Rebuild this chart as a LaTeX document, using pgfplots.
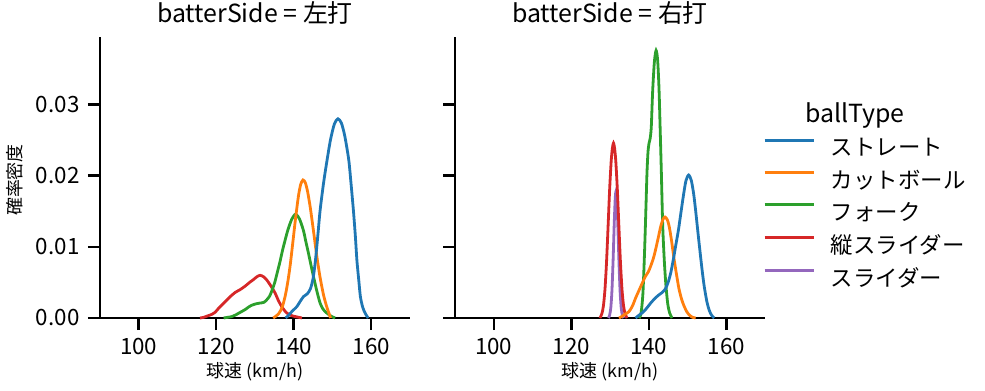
\documentclass[border=0pt]{standalone}
\usepackage{fontspec}
\setmainfont{Noto Sans CJK JP}
\usepackage{pgfplots}
\pgfplotsset{compat=1.18}
\definecolor{tabblue}{HTML}{1F77B4}
\definecolor{taborange}{HTML}{FF7F0E}
\definecolor{tabgreen}{HTML}{2CA02C}
\definecolor{tabred}{HTML}{D62728}
\definecolor{tabpurple}{HTML}{9467BD}
\pgfplotsset{
  common/.style={
    scale only axis, width=310bp, height=281bp,
    xmin=90, xmax=170, ymin=0, ymax=0.0395,
    axis x line*=bottom, axis y line*=left,
    axis line style={line width=2.6bp, -},
    tick align=outside, major tick length=12bp,
    every tick/.style={line width=2.5bp, black},
    xtick={100,120,140,160}, ytick={0,0.01,0.02,0.03},
    tick label style={font=\fontsize{22.5}{27}\selectfont},
    /pgf/number format/assume math mode=true,
    yticklabel style={/pgf/number format/fixed, /pgf/number format/fixed zerofill, /pgf/number format/precision=2, xshift=-5bp},
    xticklabel style={yshift=-5bp},
    scaled y ticks=false,
    xlabel={球速 (km/h)},
    xlabel style={font=\fontsize{18}{22}\selectfont, at={(axis description cs:0.5,-0.192)}, anchor=center},
    title style={font=\fontsize{25}{30}\selectfont, at={(axis description cs:0.5,1)}, anchor=base, yshift=8.7bp},
    clip=false,
    every axis plot/.append style={line width=2.8bp, smooth, tension=0.45},
  }
}
\begin{document}
\begin{tikzpicture}
\useasboundingbox (0,0) rectangle (985bp,391bp);
% ---------------- left panel ----------------
\begin{axis}[common, at={(100bp,73bp)}, anchor=south west,
  title={batterSide = 左打},
  ylabel={確率密度},
  ylabel style={font=\fontsize{18}{22}\selectfont, at={(axis description cs:-0.274,0.491)}, anchor=center},
]
\addplot[tabred] coordinates {(115.8,0) (116.8,0.0001) (117.8,0.0003) (118.8,0.0005) (119.7,0.0008) (120.5,0.0013) (121.4,0.0018) (122.3,0.0023) (123.6,0.0030) (124.9,0.0036) (126.2,0.0040) (127.5,0.0045) (128.6,0.0050) (129.6,0.0054) (130.5,0.0058) (131.3,0.0060) (132.2,0.0058) (133.1,0.0053) (134.1,0.0045) (135.2,0.0035) (136.0,0.0025) (136.9,0.0016) (138.0,0.0008) (139.1,0.0004) (140.4,0.0002) (141.3,0.0001) (142.1,0)};
\addplot[tabgreen] coordinates {(121.9,0) (123,0.0001) (124,0.0002) (124.9,0.0004) (126.2,0.0008) (127.5,0.0012) (128.5,0.0016) (129.2,0.0018) (130.3,0.0020) (131.3,0.0021) (132.3,0.0022) (133.1,0.0026) (133.8,0.0031) (134.4,0.0039) (135.1,0.0050) (135.7,0.0063) (136.4,0.0078) (137.1,0.0095) (137.8,0.0110) (138.5,0.0124) (139.5,0.0139) (140.5,0.0146) (141.5,0.0139) (142.5,0.0123) (143.1,0.0108) (143.8,0.0091) (144.5,0.0073) (145.1,0.0058) (146,0.0037) (146.8,0.0021) (147.5,0.0013) (148.3,0.0008) (149,0.0005) (149.8,0.0002) (150.7,0)};
\addplot[taborange] coordinates {(134.7,0) (135.5,0.0003) (136.1,0.0006) (137,0.0015) (137.8,0.0031) (138.5,0.0052) (139.1,0.0075) (139.8,0.0108) (140.4,0.0137) (141.2,0.0171) (141.8,0.0188) (142.4,0.0194) (143.0,0.0190) (143.6,0.0177) (144.3,0.0154) (145.1,0.0122) (146,0.0085) (146.8,0.0057) (147.7,0.0032) (148.5,0.0016) (149.0,0.0008) (149.5,0)};
\addplot[tabblue] coordinates {(137.9,0) (138.7,0.0004) (139.5,0.0009) (140.8,0.0016) (141.5,0.0022) (142.5,0.0030) (143.5,0.0034) (144.3,0.0041) (145,0.0056) (145.6,0.0081) (146.2,0.0115) (146.8,0.0151) (147.7,0.0190) (148.6,0.0222) (149.5,0.0251) (150.5,0.0273) (151.4,0.0280) (152.3,0.0274) (153.2,0.0255) (154.2,0.0222) (154.8,0.0188) (155.4,0.0151) (155.9,0.0115) (156.3,0.0081) (156.8,0.0052) (157.2,0.0030) (157.8,0.0015) (158.5,0.0006) (159.2,0)};
\end{axis}
% ---------------- right panel ----------------
\begin{axis}[common, at={(455bp,73bp)}, anchor=south west,
  title={batterSide = 右打},
  yticklabels={},
  reverse legend,
  legend cell align=left,
  legend style={draw=none, fill=none, at={(0.9935,0.640)}, anchor=north west, inner sep=0pt, row sep=12.6bp, column sep=16bp,
    font=\fontsize{22.5}{27}\selectfont, nodes={inner sep=0pt}},
  legend image code/.code={\draw[#1, line width=2.8bp, sharp plot] (0bp,7.5bp) -- (49bp,7.5bp);},
]
\addplot[tabpurple] coordinates {(129.6,0) (129.9,0.0004) (130.2,0.0014) (130.5,0.0038) (130.8,0.0081) (131.1,0.0134) (131.35,0.0168) (131.55,0.0178) (131.75,0.0168) (132.0,0.0134) (132.3,0.0081) (132.6,0.0038) (132.9,0.0014) (133.2,0.0004) (133.5,0)};
\addlegendentry{スライダー}
\addplot[tabred] coordinates {(127.4,0) (127.9,0.0006) (128.3,0.0017) (128.7,0.0040) (129.1,0.0078) (129.5,0.0128) (129.9,0.0180) (130.3,0.0220) (130.6,0.0238) (130.9,0.0246) (131.2,0.0238) (131.5,0.0220) (131.9,0.0180) (132.3,0.0128) (132.7,0.0078) (133.1,0.0040) (133.5,0.0017) (133.9,0.0006) (134.4,0)};
\addlegendentry{縦スライダー}
\addplot[tabgreen] coordinates {(137.5,0) (137.9,0.0004) (138.2,0.0015) (138.5,0.0035) (138.8,0.0075) (139.05,0.0115) (139.3,0.0160) (139.55,0.0205) (139.8,0.0233) (140.05,0.0245) (140.35,0.0252) (140.65,0.0268) (141.0,0.0318) (141.45,0.0360) (141.9,0.0376) (142.3,0.0362) (142.65,0.0322) (142.95,0.0265) (143.25,0.0205) (143.6,0.0130) (144.0,0.0082) (144.4,0.0048) (144.9,0.0020) (145.4,0.0007) (146.0,0)};
\addlegendentry{フォーク}
\addplot[taborange] coordinates {(132.3,0) (133.0,0.0002) (133.8,0.0005) (134.9,0.0009) (135.8,0.0017) (136.6,0.0028) (137.5,0.0039) (138.4,0.0050) (139.2,0.0059) (139.9,0.0065) (140.5,0.0073) (141.2,0.0084) (141.8,0.0097) (142.5,0.0114) (143.1,0.0129) (143.7,0.0139) (144.2,0.0142) (144.8,0.0138) (145.3,0.0128) (145.9,0.0108) (146.5,0.0084) (147.2,0.0060) (147.8,0.0041) (148.5,0.0026) (149.1,0.0017) (149.8,0.0009) (150.5,0.0004) (151.3,0.0001) (152.1,0)};
\addlegendentry{カットボール}
\addplot[tabblue] coordinates {(136.6,0) (137.5,0.0004) (138.5,0.0008) (139.5,0.0014) (140.5,0.0021) (141.5,0.0027) (142.5,0.0032) (143.5,0.0036) (144.3,0.0041) (145.0,0.0050) (145.7,0.0064) (146.4,0.0084) (147.0,0.0103) (147.7,0.0125) (148.3,0.0148) (149.0,0.0174) (149.6,0.0193) (150.3,0.0201) (151.0,0.0193) (151.6,0.0174) (152.1,0.0151) (152.7,0.0120) (153.3,0.0090) (153.8,0.0066) (154.3,0.0045) (155.0,0.0023) (155.6,0.0011) (156.2,0.0004) (156.9,0)};
\addlegendentry{ストレート}
\end{axis}
\node[font=\fontsize{25}{30}\selectfont, anchor=base] at (855bp,268bp) {ballType};
\end{tikzpicture}
\end{document}
